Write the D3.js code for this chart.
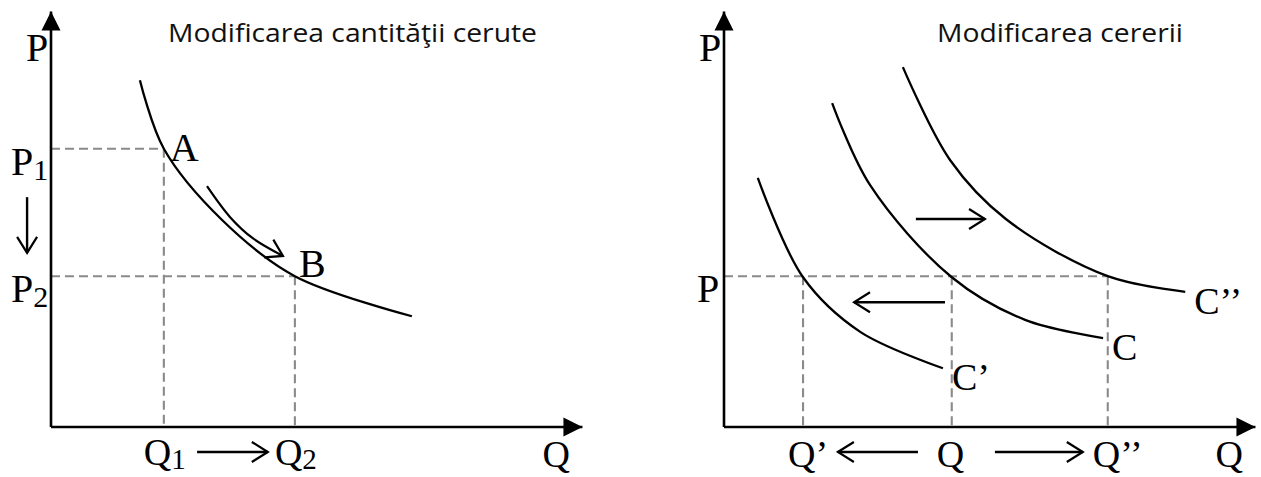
<!DOCTYPE html>
<html>
<head>
<meta charset="utf-8">
<script src="https://cdn.jsdelivr.net/npm/d3@7"></script>
<style>
  html, body { margin: 0; padding: 0; background: #fff; }
  .lbl { font-family: "Liberation Serif", "DejaVu Serif", serif; fill: #000; }
  .title { font-family: "Open Sans", "Noto Sans", sans-serif; fill: #111; }
</style>
</head>
<body>
<div id="chart"></div>
<script>
// ---- data (units on Q / P axes) ----
// left panel: movement along the demand curve
const demandCurve = [[1.71, 6.67], [2.17, 5.35], [3.29, 3.98], [4.69, 2.90], [6.94, 2.13]];
const movePath = [[3.0, 4.63], [3.44, 4.04], [3.88, 3.63], [4.46, 3.29]];
const leftPoints = [{name: 'A', q: 2.17, p: 5.35}, {name: 'B', q: 4.69, p: 2.90}];
const leftPriceLabels = ['P', 'P'];
const leftPriceSubs = ['1', '2'];
const leftQtyLabels = ['Q', 'Q'];
const leftQtySubs = ['1', '2'];

// right panel: shift of the demand curve
const curveCLow = [[0.65, 4.79], [1.52, 2.88], [2.62, 1.83], [4.21, 1.13]];
const curveC = [[2.08, 6.23], [2.81, 4.65], [4.38, 2.88], [5.79, 2.06], [7.29, 1.71]];
const curveCHigh = [[3.44, 6.92], [4.35, 5.13], [5.42, 4.00], [7.38, 2.90], [8.87, 2.60]];
const curveNames = ['C\u2019', 'C', 'C\u2019\u2019'];
const rightPrice = 2.90;
const rightQty = [1.52, 4.38, 7.38];
const rightQtyLabels = ['Q\u2019', 'Q', 'Q\u2019\u2019'];

const titles = ['Modificarea cantit\u0103\u0163ii cerute', 'Modificarea cererii'];

const width = 1261, height = 477;
const svg = d3.select('#chart').append('svg')
    .attr('width', width)
    .attr('height', height);

const defs = svg.append('defs');
defs.append('marker')
    .attr('id', 'solid')
    .attr('markerUnits', 'userSpaceOnUse')
    .attr('viewBox', '-20 -10 22 20')
    .attr('refX', 0).attr('refY', 0)
    .attr('markerWidth', 22).attr('markerHeight', 20)
    .attr('orient', 'auto')
    .append('path')
    .attr('d', 'M-19,-9.5L0,0L-19,9.5Z')
    .attr('fill', '#000');
defs.append('marker')
    .attr('id', 'open')
    .attr('markerUnits', 'userSpaceOnUse')
    .attr('viewBox', '-18 -12 20 24')
    .attr('refX', 0).attr('refY', 0)
    .attr('markerWidth', 20).attr('markerHeight', 24)
    .attr('orient', 'auto')
    .append('path')
    .attr('d', 'M-16,-10L0,0L-16,10')
    .attr('fill', 'none')
    .attr('stroke', '#000')
    .attr('stroke-width', 2.2);

function makeScales(ox){
    return {
        x: d3.scaleLinear().domain([0, 10]).range([ox, ox + 520]),
        y: d3.scaleLinear().domain([0, 8]).range([427, 11])
    };
}

function axes(g, s){
    g.append('line')
        .attr('x1', s.x(0)).attr('y1', s.y(0))
        .attr('x2', s.x(10.22)).attr('y2', s.y(0))
        .attr('stroke', '#000').attr('stroke-width', 2.6)
        .attr('marker-end', 'url(#solid)');
    g.append('line')
        .attr('x1', s.x(0)).attr('y1', s.y(0))
        .attr('x2', s.x(0)).attr('y2', s.y(7.99))
        .attr('stroke', '#000').attr('stroke-width', 2.6)
        .attr('marker-end', 'url(#solid)');
    g.append('text').attr('class', 'lbl')
        .attr('x', s.x(0) - 25).attr('y', 61)
        .attr('font-size', 40).text('P');
    g.append('text').attr('class', 'lbl')
        .attr('x', s.x(9.45)).attr('y', 467)
        .attr('font-size', 38).text('Q');
}

function dashed(g, x1, y1, x2, y2){
    g.append('line')
        .attr('x1', x1).attr('y1', y1).attr('x2', x2).attr('y2', y2)
        .attr('stroke', '#8a8a8a').attr('stroke-width', 2.1)
        .attr('stroke-dasharray', '9,5');
}

function arrow(g, s, q1, p1, q2, p2){
    g.append('line')
        .attr('x1', s.x(q1)).attr('y1', s.y(p1))
        .attr('x2', s.x(q2)).attr('y2', s.y(p2))
        .attr('stroke', '#000').attr('stroke-width', 2.4)
        .attr('marker-end', 'url(#open)');
}

function curve(g, s, pts){
    let line = d3.line()
        .x(d => s.x(d[0]))
        .y(d => s.y(d[1]))
        .curve(d3.curveCatmullRom.alpha(0.5));
    return g.append('path')
        .attr('d', line(pts))
        .attr('fill', 'none')
        .attr('stroke', '#000')
        .attr('stroke-width', 2.3);
}

// ---------- left panel ----------
const sl = makeScales(51);
const gl = svg.append('g');

leftPoints.forEach(d => {
    dashed(gl, sl.x(0), sl.y(d.p), sl.x(d.q), sl.y(d.p));
    dashed(gl, sl.x(d.q), sl.y(d.p), sl.x(d.q), sl.y(0));
});
axes(gl, sl);
curve(gl, sl, demandCurve);
curve(gl, sl, movePath).attr('stroke-width', 2.2).attr('marker-end', 'url(#open)');

gl.selectAll('.pt').data(leftPoints).enter().append('text')
    .attr('class', 'lbl')
    .attr('x', d => sl.x(d.q) + (d.name === 'A' ? 6 : 4))
    .attr('y', d => sl.y(d.p) + (d.name === 'A' ? 12 : 1))
    .attr('font-size', 40)
    .text(d => d.name);

leftPoints.forEach((d, i) => {
    let t = gl.append('text').attr('class', 'lbl')
        .attr('x', 11).attr('y', sl.y(d.p) + 26)
        .attr('font-size', 40);
    t.append('tspan').text(leftPriceLabels[i]);
    t.append('tspan').attr('font-size', 30).attr('dy', 5).text(leftPriceSubs[i]);

    let q = gl.append('text').attr('class', 'lbl')
        .attr('x', sl.x(d.q) - 20).attr('y', 465)
        .attr('font-size', 38);
    q.append('tspan').text(leftQtyLabels[i]);
    q.append('tspan').attr('font-size', 29).attr('dy', 4).text(leftQtySubs[i]);
});

// P1 -> P2 and Q1 -> Q2 arrows
arrow(gl, sl, -0.46, 4.42, -0.46, 3.35);
arrow(gl, sl, 2.81, -0.48, 4.17, -0.48);

gl.append('text').attr('class', 'title')
    .attr('x', 168).attr('y', 42)
    .attr('font-size', 26)
    .attr('textLength', 369).attr('lengthAdjust', 'spacingAndGlyphs')
    .text(titles[0]);

// ---------- right panel ----------
const sr = makeScales(724);
const gr = svg.append('g');

dashed(gr, sr.x(0), sr.y(rightPrice), sr.x(rightQty[2]), sr.y(rightPrice));
rightQty.forEach(q => dashed(gr, sr.x(q), sr.y(rightPrice), sr.x(q), sr.y(0)));
axes(gr, sr);

[curveCLow, curveC, curveCHigh].forEach(c => curve(gr, sr, c));

const curveEnds = [curveCLow, curveC, curveCHigh].map((c, i) => ({name: curveNames[i], end: c[c.length - 1]}));
gr.selectAll('.cn').data(curveEnds).enter().append('text')
    .attr('class', 'lbl')
    .attr('x', d => sr.x(d.end[0]) + 9)
    .attr('y', d => sr.y(d.end[1]) + 22)
    .attr('font-size', 38)
    .text(d => d.name);

gr.append('text').attr('class', 'lbl')
    .attr('x', sr.x(0) - 27).attr('y', sr.y(rightPrice) + 26)
    .attr('font-size', 40).text('P');

gr.selectAll('.ql').data(rightQty).enter().append('text')
    .attr('class', 'lbl')
    .attr('x', d => sr.x(d) - 15)
    .attr('y', 467)
    .attr('font-size', 38)
    .text((d, i) => rightQtyLabels[i]);

arrow(gr, sr, 3.69, 4.0, 5.02, 4.0);
arrow(gr, sr, 4.25, 2.40, 2.5, 2.40);
arrow(gr, sr, 3.73, -0.48, 2.19, -0.48);
arrow(gr, sr, 5.21, -0.48, 6.90, -0.48);

gr.append('text').attr('class', 'title')
    .attr('x', 937).attr('y', 42)
    .attr('font-size', 26)
    .attr('textLength', 246).attr('lengthAdjust', 'spacingAndGlyphs')
    .text(titles[1]);
</script>
</body>
</html>
